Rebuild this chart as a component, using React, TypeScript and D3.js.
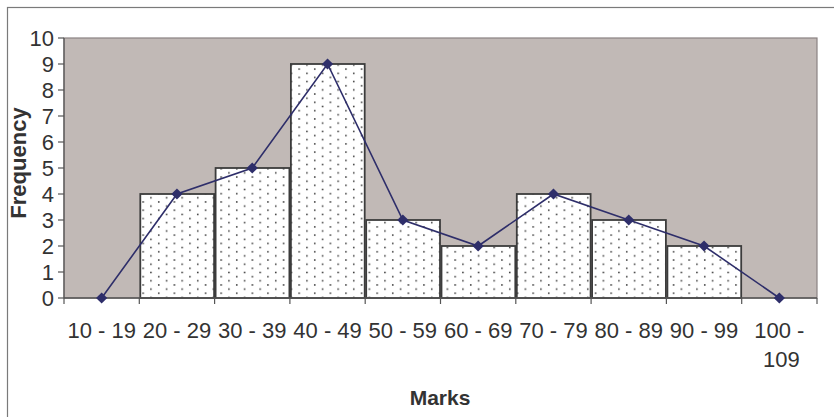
import React from "react";
import * as d3 from "d3";

const categories = ["10 - 19", "20 - 29", "30 - 39", "40 - 49", "50 - 59", "60 - 69", "70 - 79", "80 - 89", "90 - 99", "100 - 109"];
const frequencies = [0, 4, 5, 9, 3, 2, 4, 3, 2, 0];
const yTicks = [0, 1, 2, 3, 4, 5, 6, 7, 8, 9, 10];

const W = 834, H = 417;
const plot = { left: 64, right: 817, top: 38, bottom: 298 };
const FONT = "'Liberation Sans', Arial, sans-serif";
const TEXT = "#333333";

export default function App() {
  const x = d3.scaleBand<string>().domain(categories).range([plot.left, plot.right]).padding(0);
  const y = d3.scaleLinear().domain([0, 10]).range([plot.bottom, plot.top]);
  const line = d3.line<number>()
    .x((_, i) => (x(categories[i]) as number) + x.bandwidth() / 2)
    .y((d) => y(d));
  const diamond = d3.symbol().type(d3.symbolDiamond2).size(80)();

  return (
    <svg width={W} height={H} style={{ position: "absolute", left: 0, top: 0 }}>
      <defs>
        <pattern id="dots" patternUnits="userSpaceOnUse" width={15.6} height={8.3} x={0} y={0}>
          <rect width={15.6} height={8.3} fill="#ffffff" />
          <rect x={2} y={2} width={1.5} height={1.5} fill="#333333" />
          <rect x={9.8} y={6.15} width={1.5} height={1.5} fill="#333333" />
        </pattern>
      </defs>
      <rect x={0} y={0} width={W} height={H} fill="#ffffff" />
      {/* outer frame */}
      <rect x={7.5} y={7.5} width={W} height={H} fill="none" stroke="#7a7a7a" strokeWidth={1.2} />
      {/* plot area */}
      <rect x={plot.left} y={plot.top} width={plot.right - plot.left} height={plot.bottom - plot.top} fill="#C1B9B6" stroke="#8a8282" strokeWidth={1.2} />
      {/* bars */}
      {frequencies.map((f, i) =>
        f > 0 ? (
          <rect key={i}
            x={(x(categories[i]) as number) + 1}
            y={y(f)}
            width={x.bandwidth() - 1.5}
            height={plot.bottom - y(f)}
            fill="url(#dots)" stroke="#3c3c3c" strokeWidth={1.8} />
        ) : null
      )}
      {/* y axis */}
      <line x1={plot.left} x2={plot.left} y1={plot.top} y2={plot.bottom} stroke="#555" strokeWidth={1.2} />
      {yTicks.map((t) => (
        <g key={t}>
          <line x1={plot.left - 6} x2={plot.left} y1={y(t)} y2={y(t)} stroke="#555" strokeWidth={1.2} />
          <text x={plot.left - 10} y={y(t)} dy="0.36em" textAnchor="end" fontFamily={FONT} fontSize={22} fill={TEXT}>{t}</text>
        </g>
      ))}
      {/* x axis */}
      <line x1={plot.left} x2={plot.right} y1={plot.bottom} y2={plot.bottom} stroke="#555" strokeWidth={1.4} />
      {categories.concat([""]).map((c, i) => {
        const xx = i < categories.length ? (x(c) as number) : plot.right;
        return <line key={i} x1={xx} x2={xx} y1={plot.bottom} y2={plot.bottom + 6} stroke="#555" strokeWidth={1.2} />;
      })}
      {categories.map((c, i) => {
        const cx = (x(c) as number) + x.bandwidth() / 2;
        if (c === "100 - 109") {
          return (
            <text key={i} x={cx} y={338} textAnchor="middle" fontFamily={FONT} fontSize={22} fill={TEXT}>
              <tspan x={cx}>100 -</tspan>
              <tspan x={cx + 2} dy={29}>109</tspan>
            </text>
          );
        }
        return <text key={i} x={cx} y={338} textAnchor="middle" fontFamily={FONT} fontSize={22} fill={TEXT}>{c}</text>;
      })}
      {/* polygon line */}
      <path d={line(frequencies) || ""} fill="none" stroke="#2E2E6A" strokeWidth={1.6} />
      {frequencies.map((f, i) => (
        <path key={i} d={diamond || ""} fill="#2E2E6A"
          transform={`translate(${(x(categories[i]) as number) + x.bandwidth() / 2},${y(f)})`} />
      ))}
      {/* titles */}
      <text x={440} y={405} textAnchor="middle" fontFamily={FONT} fontSize={21} fontWeight="bold" fill={TEXT}>Marks</text>
      <text transform="translate(26,163) rotate(-90)" textAnchor="middle" fontFamily={FONT} fontSize={22} fontWeight="bold" fill={TEXT}>Frequency</text>
    </svg>
  );
}
